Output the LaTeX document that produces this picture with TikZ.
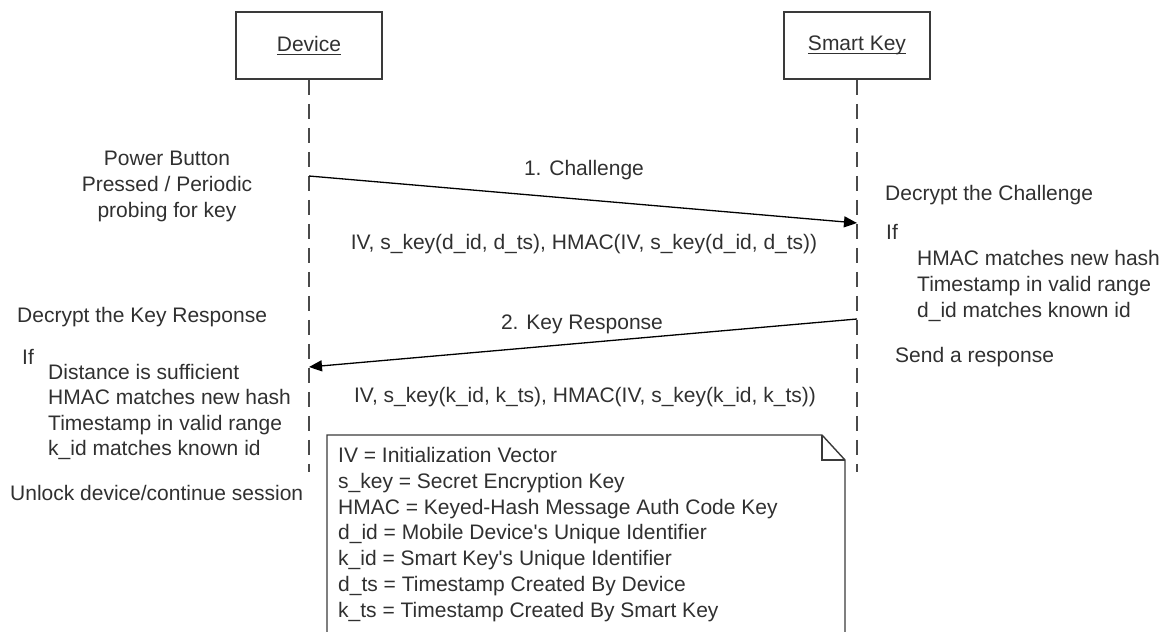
\documentclass[tikz,border=0pt]{standalone}
\usepackage{fontspec}
\setmainfont{Liberation Sans}
\usetikzlibrary{arrows.meta}
\definecolor{ink}{HTML}{303030}
\definecolor{edge}{HTML}{3A3A3A}
\definecolor{life}{HTML}{4A4A4A}
% underline at a fixed distance below the baseline
\newcommand\undl[1]{\setbox0\hbox{#1}\rlap{\rule[-3pt]{\wd0}{1.1pt}}\box0}
\tikzset{
  every node/.style={font=\fontsize{21pt}{25.5pt}\selectfont, text=ink},
  actor/.style={draw=edge, line width=1.6pt, minimum width=146pt, minimum height=67pt, inner sep=0},
  lifeline/.style={draw=life, line width=1.8pt, dash pattern=on 15pt off 9pt},
  msg/.style={draw=black, line width=1.3pt, -{Triangle[length=13pt,width=11pt]}},
  lt/.style={anchor=base west, inner sep=0},
  ct/.style={anchor=base, inner sep=0},
  memo/.style={draw=edge, line width=1.4pt, line join=miter},
}
\begin{document}
\begin{tikzpicture}[x=1pt,y=-1pt]
\useasboundingbox (0,0) rectangle (1171,632);
\clip (0,0) rectangle (1171,632);

% participants
\node[actor] (dev) at (309,45.5) {\undl{Device}};
\node[actor] (key) at (857,45.5) {\undl{Smart Key}};

% lifelines
\coordinate (devEnd) at (309,472);
\coordinate (keyEnd) at (857,472);
\draw[lifeline] (dev.south) -- (devEnd);
\draw[lifeline] (key.south) -- (keyEnd);

% messages
\coordinate (m1s) at (309,176);
\coordinate (m1e) at (857,223);
\coordinate (m2s) at (857,319);
\coordinate (m2e) at (309,367);
\draw[msg] (m1s) -- (m1e);
\draw[msg] (m2s) -- (m2e);

\node[ct] (m1lab) at (584,175) {1. Challenge};
\node[ct] (m1data) at (584,249) {IV, s\_key(d\_id, d\_ts), HMAC(IV, s\_key(d\_id, d\_ts))};
\node[ct] (m2lab) at (582,329) {2. Key Response};
\node[ct] (m2data) at (585,402) {IV, s\_key(k\_id, k\_ts), HMAC(IV, s\_key(k\_id, k\_ts))};

% device side
\node[ct] (pb1) at (167,165) {Power Button};
\node[ct] (pb2) at (167,191) {Pressed / Periodic};
\node[ct] (pb3) at (167,217) {probing for key};
\node[lt] (dk) at (17,322) {Decrypt the Key Response};
\node[lt] (dif) at (22,364) {If};
\node[lt] (dc1) at (48,379) {Distance is sufficient};
\node[lt] (dc2) at (48,404) {HMAC matches new hash};
\node[lt] (dc3) at (48,430) {Timestamp in valid range};
\node[lt] (dc4) at (48,455) {k\_id matches known id};
\node[lt] (unl) at (10,500) {Unlock device/continue session};

% smart key side
\node[lt] (kd) at (885,200) {Decrypt the Challenge};
\node[lt] (kif) at (886,239) {If};
\node[lt] (kc1) at (917,265) {HMAC matches new hash};
\node[lt] (kc2) at (917,291) {Timestamp in valid range};
\node[lt] (kc3) at (917,317) {d\_id matches known id};
\node[lt] (ks) at (895,362) {Send a response};

% legend note with folded corner
\draw[memo] (327,435) -- (822,435) -- (845,460) -- (845,660) -- (327,660) -- cycle;
\draw[memo] (822,435) -- (822,460) -- (845,460);
\node[lt] (n1) at (338,462) {IV = Initialization Vector};
\node[lt] (n2) at (338,488) {s\_key = Secret Encryption Key};
\node[lt] (n3) at (338,514) {HMAC = Keyed-Hash Message Auth Code Key};
\node[lt] (n4) at (338,539) {d\_id = Mobile Device\textquotesingle s Unique Identifier};
\node[lt] (n5) at (338,565) {k\_id = Smart Key\textquotesingle s Unique Identifier};
\node[lt] (n6) at (338,591) {d\_ts = Timestamp Created By Device};
\node[lt] (n7) at (338,617) {k\_ts = Timestamp Created By Smart Key};
\end{tikzpicture}
\end{document}
